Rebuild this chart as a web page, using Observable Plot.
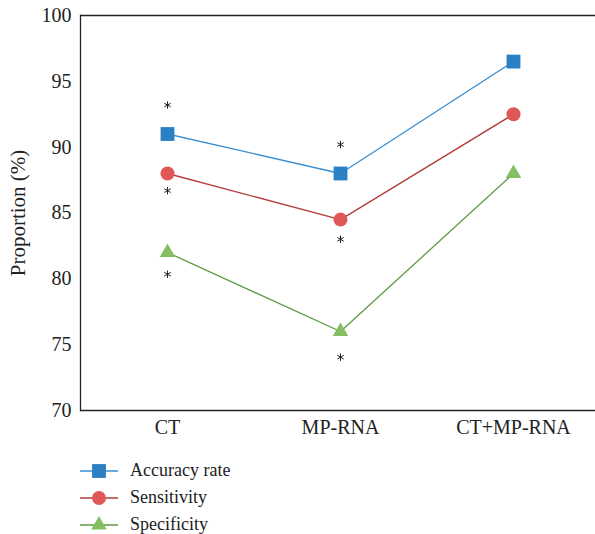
<!DOCTYPE html>
<html>
<head>
<meta charset="utf-8">
<script src="https://cdn.jsdelivr.net/npm/d3@7"></script>
<script src="https://cdn.jsdelivr.net/npm/@observablehq/plot@0.6"></script>
<style>
  body { margin: 0; background: #fff; font-family: "Liberation Serif", serif; }
  #chart svg, #chart svg text { font-family: "Liberation Serif", serif !important; }
  #legend { margin-left: 80px; margin-top: 12px; }
  .item { display: flex; align-items: center; height: 27px; font-size: 18px; color: #222; }
  .item svg { margin-right: 12px; }
</style>
</head>
<body>
<div id="chart"></div>
<div id="legend"></div>
<script>
const categories = ["CT", "MP-RNA", "CT+MP-RNA"];
const seriesNames = ["Accuracy rate", "Sensitivity", "Specificity"];
const accuracy = [91, 88, 96.5];
const sensitivity = [88, 84.5, 92.5];
const specificity = [82, 76, 88];
const asteriskCategories = ["CT", "CT", "CT", "MP-RNA", "MP-RNA", "MP-RNA"];
const asteriskValues = [93.2, 86.7, 80.35, 90.2, 83.0, 74.05];
const yTicks = [70, 75, 80, 85, 90, 95, 100];

const lineColors = ["#3a8fd2", "#b23c3c", "#5f9a40"];
const markerColors = ["#2b7fc3", "#e05757", "#84c062"];
const symbols = ["square", "circle", "triangle"];
const radii = [7.8, 7, 5.8];

const seriesValues = [accuracy, sensitivity, specificity];
const series = seriesNames.map((name, i) =>
  categories.map((c, j) => ({category: c, value: seriesValues[i][j], series: name}))
);
const asterisks = asteriskCategories.map((c, i) => ({category: c, value: asteriskValues[i]}));

const marks = [
  Plot.ruleY([70, 100], {stroke: "#222", strokeWidth: 1.3}),
  Plot.frame({anchor: "left", stroke: "#222", strokeWidth: 1.3}),
  Plot.axisY({ticks: yTicks, tickSize: 0, tickPadding: 9, fontSize: 20, fill: "#222", label: null}),
  Plot.axisY({ticks: [], tickSize: 0, fontSize: 21, fill: "#222", label: "Proportion (%)", labelAnchor: "center", labelArrow: "none", labelOffset: 70}),
  Plot.axisX({tickSize: 0, tickPadding: 9, fontSize: 20, fill: "#222", label: null})
];
series.forEach((d, i) => {
  marks.push(Plot.line(d, {x: "category", y: "value", stroke: lineColors[i], strokeWidth: 1.3}));
});
series.forEach((d, i) => {
  marks.push(Plot.dot(d, {x: "category", y: "value", fill: markerColors[i], symbol: symbols[i], r: radii[i], stroke: "none"}));
});
marks.push(Plot.dot(asterisks, {x: "category", y: "value", symbol: "asterisk", r: 3.5, stroke: "#222", strokeWidth: 1}));

const chart = Plot.plot({
  width: 595,
  height: 445,
  marginLeft: 80,
  marginRight: 0,
  marginTop: 15,
  marginBottom: 35,
  style: {fontFamily: "'Liberation Serif', serif", fontSize: "18px", color: "#222", background: "#fff"},
  x: {type: "point", domain: categories, range: [166.5, 512.5], padding: 0, label: null},
  y: {domain: [70, 100], label: "Proportion (%)"},
  marks
});
document.getElementById("chart").appendChild(chart);

const legend = document.getElementById("legend");
seriesNames.forEach((name, i) => {
  const item = document.createElement("div");
  item.className = "item";
  const w = 38, h = 20;
  const sym = d3.symbol().type(i === 0 ? d3.symbolSquare : i === 1 ? d3.symbolCircle : d3.symbolTriangle)
    .size(Math.PI * radii[i] * radii[i]);
  item.innerHTML = `<svg width="${w}" height="${h}"><line x1="0" x2="${w}" y1="${h/2}" y2="${h/2}" stroke="${lineColors[i]}" stroke-width="1.3"/><path transform="translate(${w/2},${h/2})" d="${sym()}" fill="${markerColors[i]}"/></svg><span>${name}</span>`;
  legend.appendChild(item);
});
</script>
</body>
</html>
